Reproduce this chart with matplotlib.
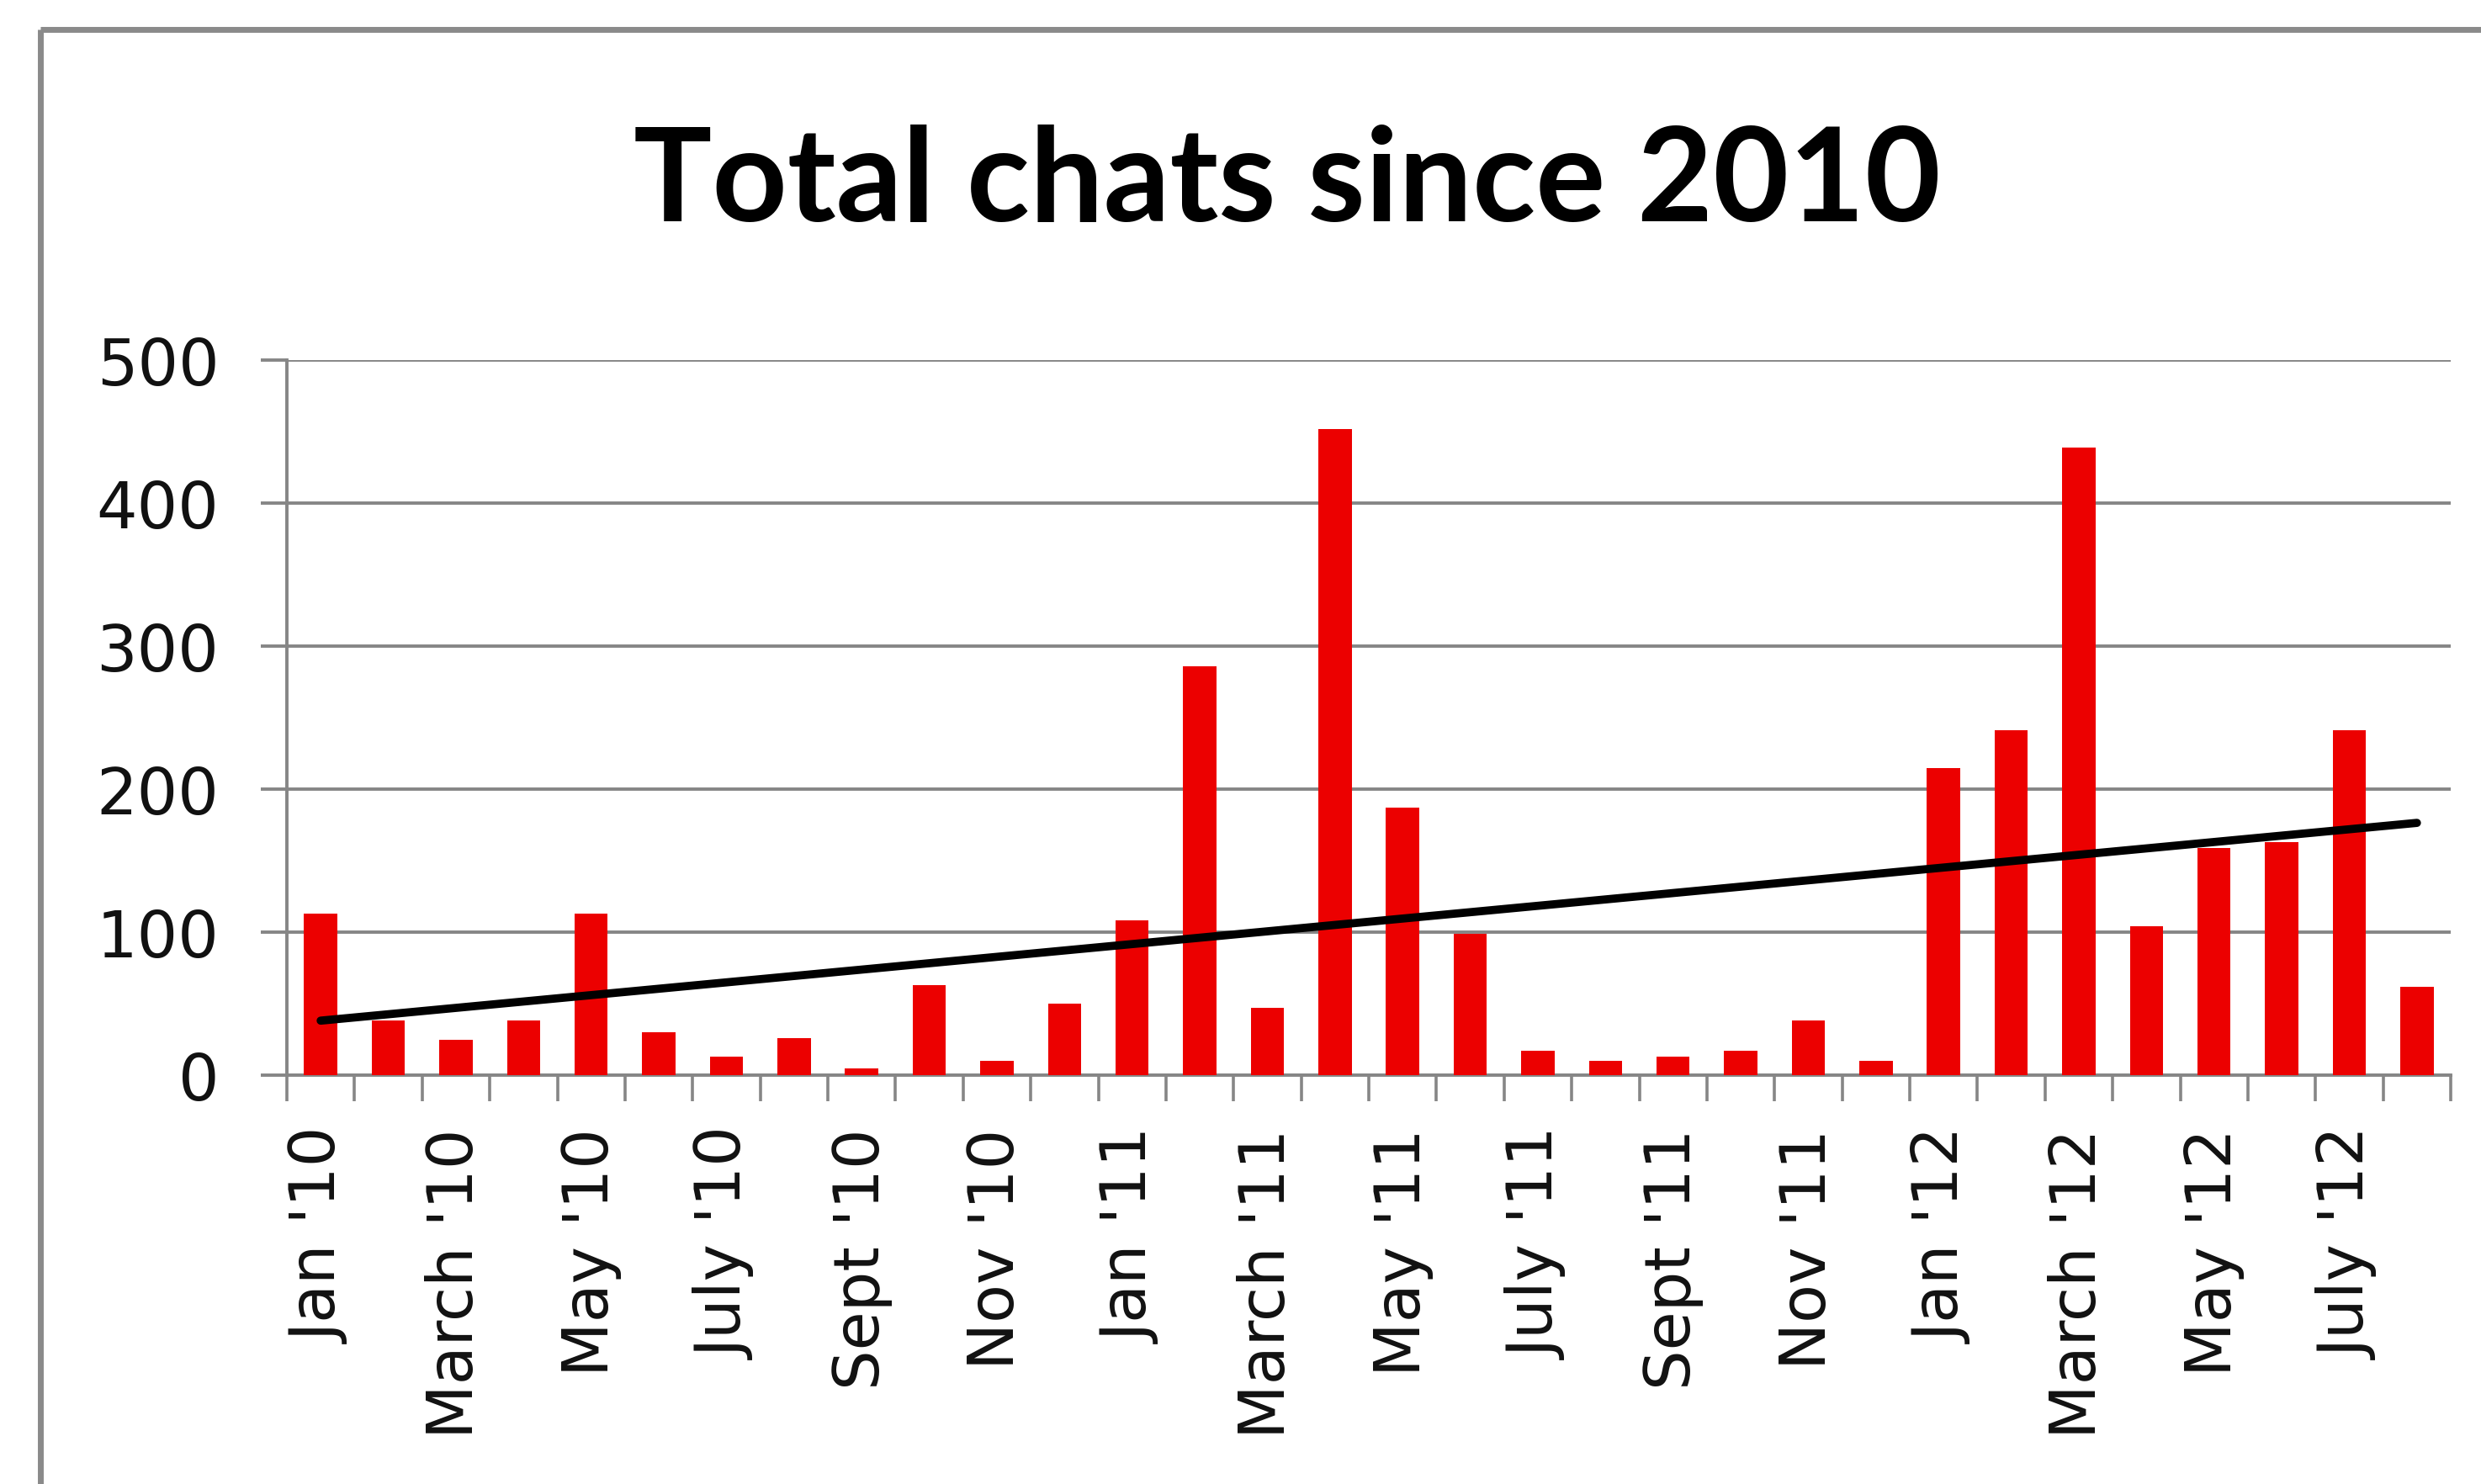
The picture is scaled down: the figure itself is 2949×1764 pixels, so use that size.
import numpy as np
import matplotlib
matplotlib.use("Agg")
import matplotlib.pyplot as plt
from matplotlib.lines import Line2D

# ---- data ----
months = ["Jan '10", "Feb '10", "March '10", "Apr '10", "May '10", "June '10",
          "July '10", "Aug '10", "Sept '10", "Oct '10", "Nov '10", "Dec '10",
          "Jan '11", "Feb '11", "March '11", "Apr '11", "May '11", "June '11",
          "July '11", "Aug '11", "Sept '11", "Oct '11", "Nov '11", "Dec '11",
          "Jan '12", "Feb '12", "March '12", "Apr '12", "May '12", "June '12",
          "July '12", "Aug '12"]
chats = [113, 38, 25, 38, 113, 30, 13, 26, 5, 63, 10, 50,
         108, 286, 47, 452, 187, 99, 17, 10, 13, 17, 38, 10,
         215, 241, 439, 104, 159, 163, 241, 62]
yticks = [0, 100, 200, 300, 400, 500]
title = "Total chats since 2010"

W, H = 2949, 1765
fig = plt.figure(figsize=(W / 100, H / 100), dpi=100)
fig.patch.set_facecolor("white")

# chart-area frame (top-left corner visible)
fx = 48 / W
fy = 1 - 36 / H
fig.add_artist(Line2D([fx, fx], [fy, -0.01], transform=fig.transFigure,
                      color="#8a8a8a", lw=5, solid_capstyle="butt"))
fig.add_artist(Line2D([fx, 1.01], [fy, fy], transform=fig.transFigure,
                      color="#8a8a8a", lw=5, solid_capstyle="butt"))

left, right = 341 / W, 2913 / W
bottom, top = 1 - 1279 / H, 1 - 429 / H
ax = fig.add_axes([left, bottom, right - left, top - bottom])

x = np.arange(len(chats))
ax.bar(x, chats, width=0.49, color="#EC0000", zorder=3)

# linear trendline
coef = np.polyfit(x, chats, 1)
xt = np.array([x[0], x[-1]])
ax.plot(xt, np.polyval(coef, xt), color="black", lw=7, zorder=4,
        solid_capstyle="round")

ax.set_xlim(-0.5, len(chats) - 0.5)
ax.set_ylim(0, 500)

grid_c = "#868686"
ax.set_yticks(yticks)
ax.set_yticklabels([str(v) for v in yticks])
ax.yaxis.grid(True, color=grid_c, lw=2.8, zorder=0)
ax.set_axisbelow(True)

# category labels every other month
lab_idx = list(range(0, len(months), 2))
ax.set_xticks(lab_idx)
ax.set_xticklabels([months[i] for i in lab_idx], rotation=90, va="top", ha="center")
ax.set_xticks(np.arange(-0.5, len(months)), minor=True)
ax.tick_params(axis="x", which="major", length=0, pad=45, labelsize=54,
               labelcolor="#111111")
ax.tick_params(axis="x", which="minor", length=22, width=2.6, color=grid_c,
               direction="out")
ax.tick_params(axis="y", length=22, width=2.8, color=grid_c, direction="out",
               pad=36, labelsize=55, labelcolor="#111111")

for s in ["top", "right"]:
    ax.spines[s].set_visible(False)
for s in ["left", "bottom"]:
    ax.spines[s].set_color(grid_c)
    ax.spines[s].set_linewidth(2.8)

fig.text(1530 / W, 1 - 263 / H, title, ha="center", va="baseline",
         fontsize=112, fontweight="bold", family=["Lato", "DejaVu Sans"])

fig.savefig("out.png", dpi=100, facecolor="white")
